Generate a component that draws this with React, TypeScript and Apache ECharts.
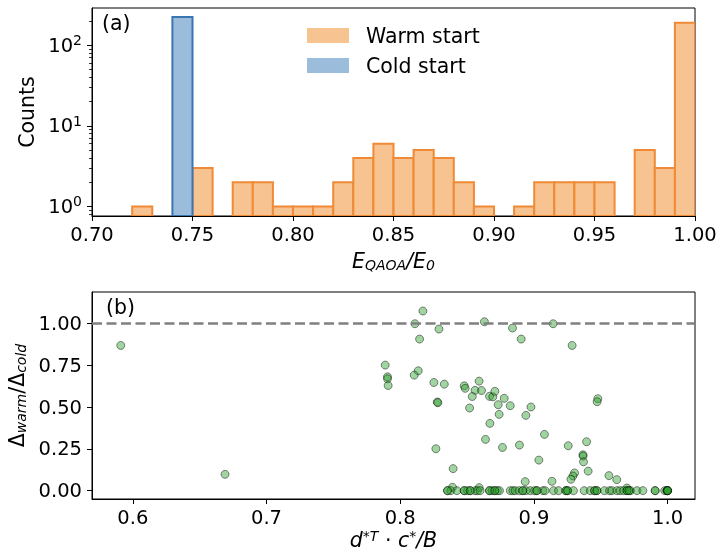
import React, { useEffect, useRef } from "react";
import * as echarts from "echarts";

// ---------- data ----------
const binWidth = 0.01;
const warmBinLefts = [0.72, 0.75, 0.77, 0.78, 0.79, 0.8, 0.81, 0.82, 0.83, 0.84, 0.85, 0.86, 0.87, 0.88, 0.89, 0.91, 0.92, 0.93, 0.94, 0.95, 0.97, 0.98, 0.99];
const warmCounts = [1, 3, 2, 2, 1, 1, 1, 2, 4, 6, 4, 5, 4, 2, 1, 1, 2, 2, 2, 2, 5, 3, 190];
const coldBinLefts = [0.74];
const coldCounts = [225];

const histXTicks = [0.7, 0.75, 0.8, 0.85, 0.9, 0.95, 1.0];
const histYTicks = [1, 10, 100];
const histYMinorTicks = [0.8, 0.9, 2, 3, 4, 5, 6, 7, 8, 9, 20, 30, 40, 50, 60, 70, 80, 90, 200];

const scatterPoints: number[][] = [
  [0.591, 0.87], [0.669, 0.098],
  [0.817, 1.076], [0.811, 1.0], [0.829, 0.968], [0.8145, 0.908], [0.863, 1.012], [0.884, 0.974], [0.8905, 0.908], [0.9144, 1.0], [0.9286, 0.87],
  [0.7888, 0.752], [0.7905, 0.682], [0.7905, 0.67], [0.791, 0.63], [0.8135, 0.718], [0.8105, 0.692], [0.8252, 0.648], [0.833, 0.638], [0.8277, 0.531], [0.8282, 0.527], [0.8267, 0.251], [0.8396, 0.132],
  [0.8479, 0.628], [0.8486, 0.613], [0.856, 0.601], [0.859, 0.656], [0.8608, 0.6], [0.8539, 0.564], [0.8519, 0.495], [0.8668, 0.565], [0.8693, 0.562], [0.8708, 0.595], [0.8733, 0.515], [0.8778, 0.553], [0.8823, 0.509], [0.874, 0.457], [0.8671, 0.403], [0.8638, 0.307], [0.8765, 0.259], [0.8892, 0.273], [0.8978, 0.501], [0.894, 0.451], [0.9079, 0.337], [0.9037, 0.183], [0.8935, 0.054], [0.9135, 0.056], [0.9257, 0.269], [0.9394, 0.293], [0.9367, 0.215], [0.9368, 0.207], [0.9371, 0.173], [0.9406, 0.117], [0.9304, 0.106], [0.9292, 0.088], [0.9277, 0.068], [0.9478, 0.551], [0.9473, 0.533], [0.9561, 0.09], [0.962, 0.066], [0.8391, 0.02], [0.8591, 0.018], [0.9696, 0.016],
];
const zeroRowX = [
  0.8354, 0.8379, 0.8424, 0.8479, 0.8504, 0.8524, 0.8561, 0.8578, 0.8598, 0.8668, 0.8688, 0.8708, 0.8728, 0.8743, 0.8823, 0.8843, 0.886, 0.889, 0.8917, 0.894, 0.8972, 0.9005, 0.9022, 0.9067, 0.9084, 0.9147, 0.9184, 0.9239, 0.9252, 0.9296, 0.9376, 0.9421, 0.9454, 0.9471, 0.9528, 0.9566, 0.9583, 0.9621, 0.9645, 0.9671, 0.9696, 0.9711, 0.9723, 0.9771, 0.9815, 0.9907, 0.9978, 0.9995, 1.0,
  0.8354, 0.8479, 0.8524, 0.8668, 0.8708, 0.8917, 0.9022, 0.9239, 0.9252, 0.9454, 0.9471, 0.9696, 0.9711, 0.9907, 0.9995, 1.0, 1.0, 1.0,
];
const scatterXTicks = [0.6, 0.7, 0.8, 0.9, 1.0];
const scatterYTicks = [0, 0.25, 0.5, 0.75, 1.0];
const referenceRatio = 1.0;

// ---------- styling ----------
const FONT = "DejaVu Sans";
const TICK_FS = 19.5;
const LABEL_FS = 20.5;
const SUB_FS = 14;
const HIST_YMIN = 0.76;
const HIST_YMAX = 290;
const WARM_FILL = "#F6C391";
const WARM_EDGE = "#F08A36";
const COLD_FILL = "#9BBCDA";
const COLD_EDGE = "#3A76B1";

function histRender(fill: string, stroke: string) {
  return (params: any, api: any) => {
    const x0 = api.value(0);
    const x1 = api.value(1);
    const c = api.value(2);
    const p0 = api.coord([x0, c]);
    const p1 = api.coord([x1, HIST_YMIN]);
    return {
      type: "rect",
      shape: { x: p0[0], y: p0[1], width: p1[0] - p0[0], height: p1[1] - p0[1] },
      style: { fill, stroke, lineWidth: 2 },
    };
  };
}

export default function App() {
  const ref = useRef<HTMLDivElement>(null);
  useEffect(() => {
    if (!ref.current) return;
    const chart = echarts.init(ref.current, null, { renderer: "svg" });

    const warmData = warmBinLefts.map((l, i) => [l, +(l + binWidth).toFixed(2), warmCounts[i]]);
    const coldData = coldBinLefts.map((l, i) => [l, +(l + binWidth).toFixed(2), coldCounts[i]]);
    const zeroPoints = zeroRowX.map((x) => [x, 0]);
    const allPoints = scatterPoints.concat(zeroPoints);

    const tickLabel = { fontFamily: FONT, fontSize: TICK_FS, color: "#000" };
    const axisLine = { show: true, onZero: false, lineStyle: { color: "#000", width: 1 } };
    const axisTick = { show: true, length: 5, lineStyle: { color: "#000", width: 1 } };

    const option: any = {
      animation: false,
      textStyle: { fontFamily: FONT },
      grid: [
        { left: 92, right: 24, top: 8, height: 208, outerBoundsMode: "none", containLabel: false, show: true, borderColor: "#000", borderWidth: 1, backgroundColor: "transparent" },
        { left: 92, right: 24, top: 292, height: 207, outerBoundsMode: "none", containLabel: false, show: true, borderColor: "#000", borderWidth: 1, backgroundColor: "transparent" },
      ],
      legend: {
        orient: "vertical",
        left: 302,
        top: 20,
        itemWidth: 42,
        itemHeight: 15,
        itemGap: 9,
        icon: "rect",
        itemStyle: { borderWidth: 0 },
        textStyle: { fontFamily: FONT, fontSize: LABEL_FS, color: "#000", padding: [0, 0, 0, 12] },
        data: ["Warm start", "Cold start"],
      },
      xAxis: [
        {
          type: "value",
          gridIndex: 0,
          min: 0.7,
          max: 1.0,
          interval: 0.05,
          axisLine,
          axisTick: { ...axisTick, customValues: histXTicks },
          axisLabel: { ...tickLabel, margin: 8, customValues: histXTicks, formatter: (v: number) => v.toFixed(2) },
          splitLine: { show: false },
          name: "{i|E}{sub|QAOA}{i|/E}{sub|0}",
          nameLocation: "middle",
          nameGap: 34,
          nameTextStyle: {
            rich: {
              i: { fontFamily: FONT, fontSize: LABEL_FS, fontStyle: "italic", color: "#000" },
              sub: { fontFamily: FONT, fontSize: SUB_FS, fontStyle: "italic", color: "#000", padding: [8, 0, 0, 0] },
            },
          },
        },
        {
          type: "value",
          gridIndex: 1,
          min: 0.5695,
          max: 1.0205,
          axisLine,
          axisTick: { ...axisTick, customValues: scatterXTicks },
          axisLabel: { ...tickLabel, margin: 8, customValues: scatterXTicks, formatter: (v: number) => v.toFixed(1) },
          splitLine: { show: false },
          name: "{i|d}{sup|*T}{n| · }{i|c}{sup|*}{i|/B}",
          nameLocation: "middle",
          nameGap: 30,
          nameTextStyle: {
            lineHeight: 21,
            rich: {
              i: { fontFamily: FONT, fontSize: LABEL_FS, fontStyle: "italic", color: "#000", lineHeight: 21 },
              n: { fontFamily: FONT, fontSize: LABEL_FS, color: "#000", lineHeight: 21 },
              sup: { fontFamily: FONT, fontSize: SUB_FS, fontStyle: "italic", color: "#000", verticalAlign: "top", lineHeight: 14 },
            },
          },
        },
      ],
      yAxis: [
        {
          type: "log",
          gridIndex: 0,
          min: HIST_YMIN,
          max: HIST_YMAX,
          logBase: 10,
          axisLine,
          axisTick: { ...axisTick, customValues: histYTicks },
          axisLabel: {
            customValues: histYTicks,
            margin: 10,
            formatter: (v: number) => `{b|10}{s|${Math.round(Math.log10(v))}}`,
            rich: {
              b: { fontFamily: FONT, fontSize: TICK_FS, color: "#000" },
              s: { fontFamily: FONT, fontSize: SUB_FS, color: "#000", padding: [0, 0, 10, 0] },
            },
          },
          splitLine: { show: false },
          name: "Counts",
          nameLocation: "middle",
          nameGap: 44,
          nameTextStyle: { fontFamily: FONT, fontSize: LABEL_FS, color: "#000" },
        },
        {
          type: "log",
          gridIndex: 0,
          min: HIST_YMIN,
          max: HIST_YMAX,
          logBase: 10,
          position: "left",
          axisLine: { show: false },
          axisTick: { show: true, length: 3, lineStyle: { color: "#000", width: 0.8 }, customValues: histYMinorTicks },
          axisLabel: { show: false },
          splitLine: { show: false },
        },
        {
          type: "value",
          gridIndex: 1,
          min: -0.05,
          max: 1.19,
          axisLine,
          axisTick: { ...axisTick, customValues: scatterYTicks },
          axisLabel: { ...tickLabel, margin: 10, customValues: scatterYTicks, formatter: (v: number) => v.toFixed(2) },
          splitLine: { show: false },
          name: "{d|Δ}{sub|warm}{d|/Δ}{sub|cold}",
          nameLocation: "middle",
          nameGap: 52,
          nameTextStyle: {
            rich: {
              d: { fontFamily: FONT, fontSize: LABEL_FS, color: "#000" },
              sub: { fontFamily: FONT, fontSize: SUB_FS, fontStyle: "italic", color: "#000", padding: [8, 0, 0, 0] },
            },
          },
        },
      ],
      graphic: [
        { type: "text", left: 102, top: 12, style: { text: "(a)", font: `${LABEL_FS}px "${FONT}"`, fill: "#000" } },
        { type: "text", left: 106, top: 296, style: { text: "(b)", font: `${LABEL_FS}px "${FONT}"`, fill: "#000" } },
      ],
      series: [
        {
          type: "custom",
          name: "Warm start",
          xAxisIndex: 0,
          yAxisIndex: 0,
          renderItem: histRender(WARM_FILL, WARM_EDGE),
          encode: { x: [0, 1], y: 2 },
          itemStyle: { color: WARM_FILL },
          data: warmData,
          clip: true,
        },
        {
          type: "custom",
          name: "Cold start",
          xAxisIndex: 0,
          yAxisIndex: 0,
          renderItem: histRender(COLD_FILL, COLD_EDGE),
          encode: { x: [0, 1], y: 2 },
          itemStyle: { color: COLD_FILL },
          data: coldData,
          clip: true,
        },
        {
          type: "scatter",
          xAxisIndex: 1,
          yAxisIndex: 2,
          symbolSize: 8,
          itemStyle: { color: "#2ca02c", opacity: 0.45, borderColor: "#000", borderWidth: 1 },
          data: allPoints,
          markLine: {
            silent: true,
            symbol: "none",
            label: { show: false },
            lineStyle: { color: "#808080", width: 2.5, type: [10, 4.5], opacity: 1 },
            data: [{ yAxis: referenceRatio }],
          },
        },
      ],
    };
    chart.setOption(option);
    return () => chart.dispose();
  }, []);

  return <div ref={ref} style={{ position: "fixed", left: 0, top: 0, width: 719, height: 552 }} />;
}
